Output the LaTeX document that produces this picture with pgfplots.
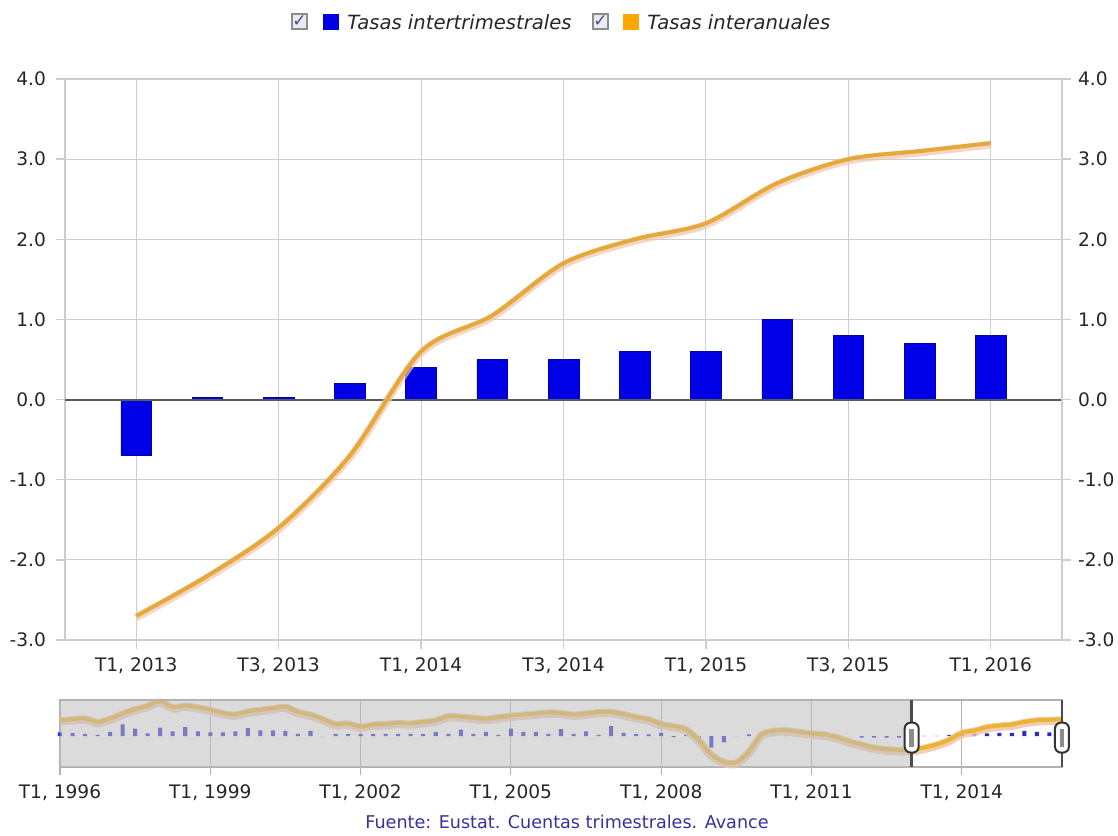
\documentclass[border=0pt]{standalone}
\usepackage{fontspec}
\setmainfont{DejaVu Sans}
\usepackage{pgfplots}
\usepackage{pgfplotstable}
\pgfplotsset{compat=1.18}

\definecolor{barblue}{RGB}{0,0,230}
\definecolor{navblue}{RGB}{40,40,205}
\definecolor{lineor}{RGB}{230,168,56}
\definecolor{halo}{RGB}{238,196,170}
\definecolor{gridc}{RGB}{205,205,205}
\definecolor{navmask}{RGB}{190,190,190}
\definecolor{srcblue}{RGB}{51,51,153}
\definecolor{legor}{RGB}{255,165,0}
\definecolor{cbfill}{RGB}{232,234,244}
\definecolor{cbmark}{RGB}{70,80,130}

% quarters T1 2013 .. T1 2016
\pgfplotstableread{
q inter anual
0  -0.70 -2.70
1   0.03 -2.20
2   0.03 -1.60
3   0.20 -0.70
4   0.40  0.60
5   0.50  1.05
6   0.50  1.70
7   0.60  2.00
8   0.60  2.20
9   1.00  2.70
10  0.80  3.00
11  0.70  3.10
12  0.80  3.20
}\maindata

% navigator, quarters T1 1996 .. T1 2016
\pgfplotstableread{
q inter anual
0   0.7  3.00
1   0.6  3.20
2   0.4  3.35
3   0.2  2.70
4   0.8  3.30
5   2.2  4.30
6   1.4  5.10
7   0.5  5.80
8   1.6  6.60
9   0.9  5.50
10  1.7  5.80
11  0.9  5.50
12  0.7  5.00
13  0.7  4.40
14  0.9  4.10
15  1.5  4.70
16  1.1  5.00
17  1.1  5.30
18  1.0  5.60
19  0.4  4.60
20  1.0  4.10
21  0.0  3.20
22  0.4  2.30
23  0.4  2.40
24  0.4  1.80
25  0.4  2.20
26  0.4  2.30
27  0.4  2.50
28  0.4  2.40
29  0.4  2.70
30  0.8  3.00
31  0.4  3.80
32  1.2  3.70
33  0.4  3.50
34  0.8  3.30
35  0.2  3.60
36  1.4  3.90
37  0.8  4.10
38  0.8  4.30
39  0.4  4.50
40  1.3  4.40
41  0.4  4.10
42  0.9  4.30
43  0.2  4.60
44  1.9  4.60
45  0.6  4.20
46  0.4  3.60
47  0.3  3.20
48  0.6  2.30
49 -0.2  1.90
50  0.2  1.30
51 -1.2 -0.80
52 -2.2 -3.50
53 -1.2 -4.90
54  0.0 -5.00
55  0.3 -3.00
56  0.2  0.30
57  0.1  1.00
58  0.1  1.10
59  0.0  0.80
60  0.0  0.50
61  0.1  0.30
62  0.1 -0.20
63  0.0 -1.00
64 -0.3 -1.60
65 -0.3 -2.20
66 -0.3 -2.50
67 -0.3 -2.65
68 -0.7 -2.70
69  0.03 -2.20
70  0.03 -1.60
71  0.2 -0.70
72  0.4  0.60
73  0.5  1.05
74  0.5  1.70
75  0.6  2.00
76  0.6  2.20
77  1.0  2.70
78  0.8  3.00
79  0.7  3.10
80  0.8  3.20
}\navdata

\begin{document}
\begin{tikzpicture}[x=0.5pt,y=-0.5pt]
\path[use as bounding box] (0,0) rectangle (1118,835);

% main chart
\begin{axis}[
  at={(32.5pt,-320pt)}, anchor=south west,
  width=498.5pt, height=280.5pt, scale only axis,
  xmin=-1, xmax=13, ymin=-3, ymax=4,
  xtick={0,2,...,12},
  xticklabels={{T1, 2013},{T3, 2013},{T1, 2014},{T3, 2014},{T1, 2015},{T3, 2015},{T1, 2016}},
  ytick={-3,-2,...,4},
  yticklabels={-3.0,-2.0,-1.0,0.0,1.0,2.0,3.0,4.0},
  grid=major, major grid style={gridc, line width=0.5pt},
  axis line style={gridc, line width=0.7pt},
  tick style={gridc, line width=0.7pt},
  tick align=outside, major tick length=4.5pt,
  xtick pos=bottom, ytick pos=left,
  tick label style={font=\fontsize{9.3}{11}\selectfont, text=black!85},
  xticklabel style={yshift=-1pt},
  yticklabel style={xshift=-1.5pt},
]
\addplot[ybar, bar width=0.43, fill=barblue, draw=barblue!75!black, line width=0.3pt]
  table[x=q, y=inter]{\maindata};
\draw[black!65, line width=1pt] (axis cs:-1,0) -- (axis cs:13,0);
\addplot[smooth, halo, line width=3.8pt, opacity=0.7, yshift=-0.8pt] table[x=q, y=anual]{\maindata};
\addplot[smooth, lineor, line width=2pt] table[x=q, y=anual]{\maindata};
\end{axis}

% right-hand labels
\begin{axis}[
  at={(32.5pt,-320pt)}, anchor=south west,
  width=498.5pt, height=280.5pt, scale only axis,
  xmin=-1, xmax=13, ymin=-3, ymax=4,
  axis x line=none, axis y line*=right,
  ytick={-3,-2,...,4},
  yticklabels={-3.0,-2.0,-1.0,0.0,1.0,2.0,3.0,4.0},
  axis line style={gridc, line width=0.7pt, -},
  tick style={gridc, line width=0.7pt},
  tick align=outside, major tick length=4.5pt,
  tick label style={font=\fontsize{9.3}{11}\selectfont, text=black!85},
]
\addplot[draw=none] coordinates {(0,0)};
\end{axis}

% navigator
\begin{axis}[
  at={(30pt,-383.5pt)}, anchor=south west,
  width=501pt, height=33.5pt, scale only axis,
  xmin=0, xmax=80, ymin=-5.9, ymax=6.86,
  xtick={0,12,...,72},
  xticklabels={{T1, 1996},{T1, 1999},{T1, 2002},{T1, 2005},{T1, 2008},{T1, 2011},{T1, 2014}},
  ytick=\empty,
  xmajorgrids, major grid style={black!30, line width=0.5pt},
  axis line style={black!30, line width=0.6pt},
  tick style={black!30, line width=0.6pt},
  tick align=outside, major tick length=4pt,
  xtick pos=bottom,
  tick label style={font=\fontsize{9.3}{11}\selectfont, text=black!85},
  xticklabel style={yshift=-1.5pt},
  clip=false,
]
\addplot[ybar, bar width=0.32, fill=navblue, draw=none] table[x=q, y=inter]{\navdata};
\addplot[smooth, halo, line width=4.2pt, opacity=0.85, yshift=-0.6pt] table[x=q, y=anual]{\navdata};
\addplot[smooth, lineor!85!yellow, line width=2pt] table[x=q, y=anual]{\navdata};
\fill[navmask, opacity=0.55] (axis cs:0,-5.9) rectangle (axis cs:68,6.86);
\draw[black!30, line width=0.6pt] (axis cs:0,6.86) -- (axis cs:80,6.86);
\draw[black!70, line width=1.3pt] (axis cs:68,-5.9) -- (axis cs:68,6.86);
\node[draw=black!80, line width=1pt, fill=white, rounded corners=3pt,
      minimum width=7pt, minimum height=15pt, inner sep=0pt]
      at (axis cs:68,-0.3) {\color{black!45}\rule{2.4pt}{9pt}};
\draw[black!70, line width=1.3pt] (axis cs:80,-5.9) -- (axis cs:80,6.86);
\node[draw=black!80, line width=1pt, fill=white, rounded corners=3pt,
      minimum width=7pt, minimum height=15pt, inner sep=0pt]
      at (axis cs:80,-0.3) {\color{black!45}\rule{2.4pt}{9pt}};
\end{axis}

% legend
\begin{scope}[font=\fontsize{9.8}{11}\selectfont]
\draw[black!45, fill=cbfill, line width=0.6pt] (292,14) rectangle (307,29);
\node[text=cbmark, font=\fontsize{8.5}{8.5}\selectfont, inner sep=0] at (299.5,21.5) {✓};
\fill[barblue] (323,14) rectangle (339,30);
\node[anchor=west, inner sep=0, text=black!85] at (347,22) {\itshape Tasas intertrimestrales};
\draw[black!45, fill=cbfill, line width=0.6pt] (593,14) rectangle (608,29);
\node[text=cbmark, font=\fontsize{8.5}{8.5}\selectfont, inner sep=0] at (600.5,21.5) {✓};
\fill[legor] (623,14) rectangle (639,30);
\node[anchor=west, inner sep=0, text=black!85] at (647,22) {\itshape Tasas interanuales};
\end{scope}

% source
\node[text=srcblue, font=\fontsize{8.8}{10}\selectfont] at (567,822) {Fuente: Eustat. Cuentas trimestrales. Avance};
\end{tikzpicture}
\end{document}
